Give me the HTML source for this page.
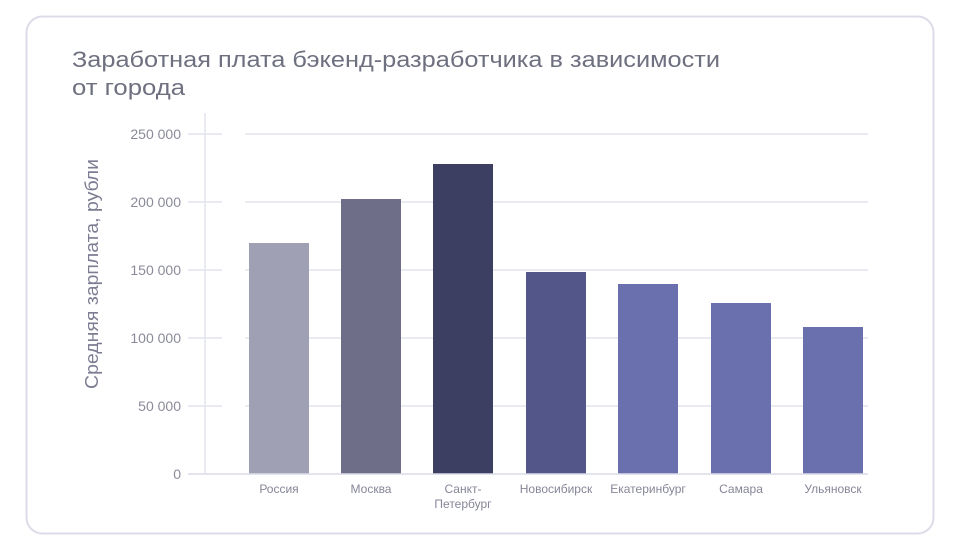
<!DOCTYPE html>
<html><head><meta charset="utf-8">
<style>
html,body{margin:0;padding:0;background:#fff;}
svg{display:block;font-family:"Liberation Sans",sans-serif;}
</style></head>
<body>
<svg width="961" height="550" viewBox="0 0 961 550" xmlns="http://www.w3.org/2000/svg">
<rect x="26.5" y="16.5" width="907" height="517" rx="16" fill="#fff" stroke="#dcdce9" stroke-width="2"/>
<text x="72" y="67" font-size="22" fill="#6e7080" textLength="648" lengthAdjust="spacingAndGlyphs">Заработная плата бэкенд-разработчика в зависимости</text>
<text x="72" y="95" font-size="22" fill="#6e7080" textLength="113" lengthAdjust="spacingAndGlyphs">от города</text>
<g stroke="#e4e4ee" stroke-width="1.5">
<line x1="188" y1="134" x2="222" y2="134"/><line x1="245" y1="134" x2="868" y2="134"/>
<line x1="188" y1="202" x2="222" y2="202"/><line x1="245" y1="202" x2="868" y2="202"/>
<line x1="188" y1="270" x2="222" y2="270"/><line x1="245" y1="270" x2="868" y2="270"/>
<line x1="188" y1="338" x2="222" y2="338"/><line x1="245" y1="338" x2="868" y2="338"/>
<line x1="188" y1="406" x2="222" y2="406"/><line x1="245" y1="406" x2="868" y2="406"/>
<line x1="205" y1="113" x2="205" y2="474"/>
</g>
<g font-size="14" fill="#8a8b99" text-anchor="end">
<text x="181" y="139">250 000</text>
<text x="181" y="207">200 000</text>
<text x="181" y="275">150 000</text>
<text x="181" y="343">100 000</text>
<text x="181" y="411">50 000</text>
<text x="181" y="479">0</text>
</g>
<text transform="translate(98,274) rotate(-90)" font-size="18" fill="#7c7d93" text-anchor="middle" textLength="230" lengthAdjust="spacingAndGlyphs">Средняя зарплата, рубли</text>
<rect x="249" y="243" width="60" height="231" fill="#a0a0b4"/>
<rect x="341" y="199" width="60" height="275" fill="#6e6e89"/>
<rect x="433" y="164" width="60" height="310" fill="#3c3e62"/>
<rect x="526" y="272" width="60" height="202" fill="#525689"/>
<rect x="618" y="284" width="60" height="190" fill="#6a6fae"/>
<rect x="711" y="303" width="60" height="171" fill="#6a6fae"/>
<rect x="803" y="327" width="60" height="147" fill="#6a6fae"/>
<line x1="188" y1="474" x2="868" y2="474" stroke="#dcdce8" stroke-width="1.5"/>
<g font-size="12" fill="#858697" text-anchor="middle">
<text x="279" y="493">Россия</text>
<text x="371" y="493">Москва</text>
<text x="463" y="493">Санкт-</text>
<text x="463" y="508">Петербург</text>
<text x="556" y="493">Новосибирск</text>
<text x="648" y="493">Екатеринбург</text>
<text x="741" y="493">Самара</text>
<text x="833" y="493">Ульяновск</text>
</g>
</svg>
</body></html>
